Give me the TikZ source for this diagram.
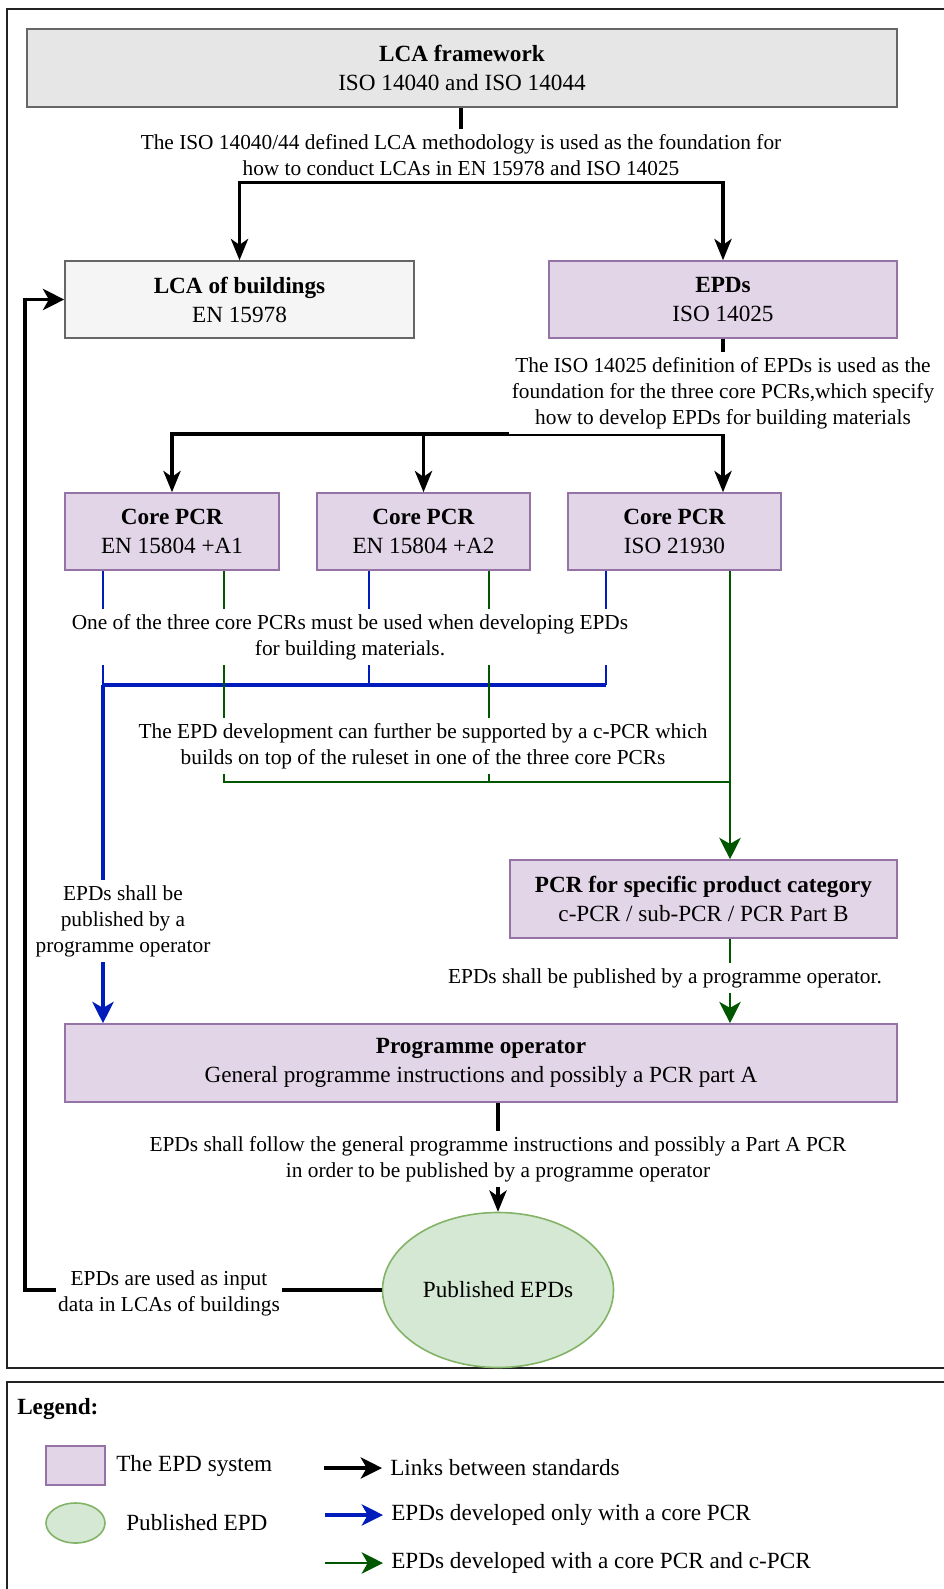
\documentclass[tikz,border=0pt]{standalone}
\usepackage{fontspec}
\setmainfont{Liberation Serif}
\usetikzlibrary{arrows.meta,shapes.geometric}
\definecolor{purfill}{HTML}{E1D5E7}
\definecolor{purdraw}{HTML}{9673A6}
\definecolor{grayfill}{HTML}{E6E6E6}
\definecolor{lightfill}{HTML}{F5F5F5}
\definecolor{graydraw}{HTML}{666666}
\definecolor{grnfill}{HTML}{D5E8D4}
\definecolor{grndraw}{HTML}{82B366}
\definecolor{eblue}{HTML}{001DBC}
\definecolor{egreen}{HTML}{005700}
\definecolor{framecol}{HTML}{222222}
\begin{document}
\begin{tikzpicture}[x=0.75pt,y=-0.75pt,
  every node/.style={font=\fontsize{16pt}{19.5pt}\selectfont, inner sep=0pt},
  big/.style={font=\fontsize{17.4pt}{21.5pt}\selectfont},
  box/.style n args={2}{draw, line width=1.2pt, minimum width=#1*0.75pt, minimum height=#2*0.75pt, align=center, font=\fontsize{17.4pt}{21.75pt}\selectfont},
  epdbox/.style={fill=purfill, draw=purdraw},
  graybox/.style={fill=grayfill, draw=graydraw},
  lightbox/.style={fill=lightfill, draw=graydraw},
  lbl/.style={fill=white, align=center, inner xsep=2pt, inner ysep=4pt},
  blk/.style={line width=2.3pt, draw=black},
  bthin/.style={line width=2pt, draw=eblue},
  bthick/.style={line width=3.3pt, draw=eblue},
  gline/.style={line width=2.2pt, draw=egreen},
  tip/.style={-{Stealth[length=16pt,width=13pt,inset=4.5pt]}},
  bigtip/.style={-{Stealth[length=16pt,width=16pt,inset=4.5pt]}},
  frame/.style={line width=1.6pt, draw=framecol},
]
\useasboundingbox (0,0) rectangle (944,1589);
\clip (0,0) rectangle (944,1589);

% frames
\draw[frame] (7,9) rectangle (970,1368);
\draw[frame] (7,1382) rectangle (970,1620);

% boxes
\node[box={870}{78}, graybox] (fw) at (462,68) {\textbf{LCA framework}\\ISO 14040 and ISO 14044};
\node[box={349}{77}, lightbox] (lcab) at (239.5,299.5) {\textbf{LCA of buildings}\\EN 15978};
\node[box={348}{77}, epdbox] (epd) at (723,299.5) {\textbf{EPDs}\\ISO 14025};
\node[box={214}{77}, epdbox] (core1) at (172,531.5) {\textbf{Core PCR}\\EN 15804 +A1};
\node[box={213}{77}, epdbox] (core2) at (423.5,531.5) {\textbf{Core PCR}\\EN 15804 +A2};
\node[box={213}{77}, epdbox] (core3) at (674.5,531.5) {\textbf{Core PCR}\\ISO 21930};
\node[box={387}{78}, epdbox] (pcr) at (703.5,899) {\textbf{PCR for specific product category}\\c-PCR / sub-PCR / PCR Part B};
\node[box={832}{78}, epdbox] (po) at (481,1063) {\textbf{Programme operator}\\General programme instructions and possibly a PCR part A};
\node[big, draw=grndraw, fill=grnfill, line width=1.2pt, ellipse, minimum width=231*0.75pt, minimum height=155*0.75pt] (ell) at (498,1290) {Published EPDs};

% black connectors
\coordinate (j1) at (461,182);
\draw[blk] (fw.south -| j1) -- (j1);
\draw[blk,tip] (j1) -| (lcab.north);
\draw[blk,tip] (j1) -| (epd.north);
\coordinate (j2) at (epd.south |- 0,434);
\draw[blk,tip] (epd.south) -- (epd.south |- core3.north);
\draw[blk,tip] (j2) -| (core1.north);
\draw[blk,tip] (j2) -| (core2.north);

% blue connectors
\coordinate (bj1) at (103,685);
\coordinate (bj2) at (369,685);
\coordinate (bj3) at (606,685);
\draw[bthin] (core1.south -| bj1) -- (bj1);
\draw[bthin] (core2.south -| bj2) -- (bj2);
\draw[bthin] (core3.south -| bj3) -- (bj3);
\draw[bthick] (bj3) -- (bj1);
\draw[bthick,bigtip] (bj1) -- (po.north -| bj1);

% green connectors
\coordinate (gj1) at (224,782);
\coordinate (gj2) at (489,782);
\coordinate (gj3) at (730,782);
\draw[gline] (core1.south -| gj1) -- (gj1) -- (gj3);
\draw[gline] (core2.south -| gj2) -- (gj2);
\draw[gline,bigtip] (core3.south -| gj3) -- (pcr.north -| gj3);
\draw[gline,bigtip] (pcr.south -| gj3) -- (po.north -| gj3);

% to published and feedback
\draw[blk,tip] (po.south -| ell.north) -- (ell.north);
\coordinate (fb) at (25,0);
\draw[blk,bigtip] (ell.west) -- (ell.west -| fb) |- (lcab.west);

% labels
\node[lbl] (l1) at (461,155) {The ISO 14040/44 defined LCA methodology is used as the foundation for\\how to conduct LCAs in EN 15978 and ISO 14025};
\node[lbl] (l2) at (723,393) {The ISO 14025 definition of EPDs is used as the\\foundation for the three core PCRs,which specify\\how to develop EPDs for building materials};
\node[lbl] (l3) at (350,637) {One of the three core PCRs must be used when developing EPDs\\for building materials.};
\node[lbl] (l4) at (423,746) {The EPD development can further be supported by a c-PCR which\\builds on top of the ruleset in one of the three core PCRs};
\node[lbl] (l5) at (123,921) {EPDs shall be\\published by a\\programme operator};
\node[lbl] (l6) at (665,978) {EPDs shall be published by a programme operator.};
\node[lbl] (l7) at (498,1159) {EPDs shall follow the general programme instructions and possibly a Part A PCR\\in order to be published by a programme operator};
\node[lbl] (l8) at (169,1293) {EPDs are used as input\\data in LCAs of buildings};

% legend
\node[big, anchor=west] (lg) at (17,1409) {\textbf{Legend:}};
\node[draw=purdraw, fill=purfill, line width=1.2pt, minimum width=59*0.75pt, minimum height=39*0.75pt] (lsq) at (75.5,1465.5) {};
\node[big, anchor=west] (lsqt) at (116,1466) {The EPD system};
\node[draw=grndraw, fill=grnfill, line width=1.2pt, ellipse, minimum width=59*0.75pt, minimum height=40*0.75pt] (lel) at (75.5,1523) {};
\node[big, anchor=west] (lelt) at (126,1523) {Published EPD};
\node[big, anchor=west] (la1) at (390,1468) {Links between standards};
\node[big, anchor=west] (la2) at (391,1515) {EPDs developed only with a core PCR};
\node[big, anchor=west] (la3) at (391,1563) {EPDs developed with a core PCR and c-PCR};
\coordinate (a1s) at (324,1468);
\coordinate (a2s) at (325,1515);
\coordinate (a3s) at (325,1563);
\draw[blk,bigtip] (a1s) -- ([xshift=-6pt]la1.west);
\draw[line width=2.3pt, draw=eblue, bigtip] (a2s) -- ([xshift=-6pt]la2.west);
\draw[gline,bigtip] (a3s) -- ([xshift=-6pt]la3.west);
\end{tikzpicture}
\end{document}
